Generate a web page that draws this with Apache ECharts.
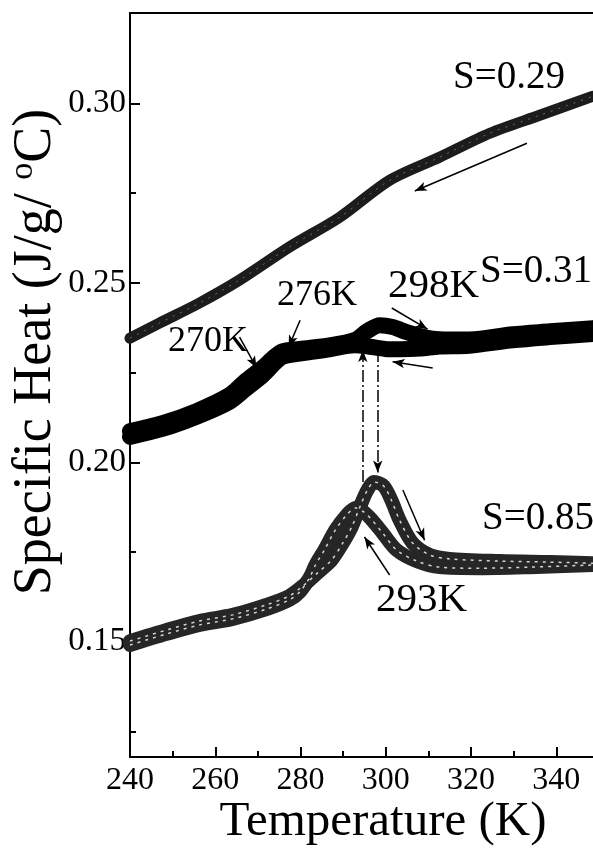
<!DOCTYPE html>
<html>
<head>
<meta charset="utf-8">
<script src="https://cdn.jsdelivr.net/npm/echarts@6/dist/echarts.min.js"></script>
<style>
  html, body { margin: 0; padding: 0; background: #fff; }
  #chart { width: 593px; height: 849px; }
</style>
</head>
<body>
<div id="chart"></div>
<script>
// tick values
var xMajor = [240, 260, 280, 300, 320, 340];
var xMinor = [250, 270, 290, 310, 330];
var yMajor = [0.15, 0.20, 0.25, 0.30];
var yMinor = [0.125, 0.175, 0.225, 0.275];

// S=0.29 (cooling only)
var tS029 = [240.0, 246.9, 256.3, 265.7, 277.4, 289.2, 300.9, 312.6, 324.4, 336.1, 348.6];
var cS029 = [0.2346, 0.2388, 0.2444, 0.2508, 0.2600, 0.2683, 0.2786, 0.2850, 0.2917, 0.2967, 0.3020];

// S=0.31 heating / cooling
var tS031h = [240.0, 247.6, 255.6, 263.4, 267.3, 271.1, 273.4, 275.6, 279.8, 286.8, 292.7, 295.7, 298.6, 301.6, 304.9, 308.7, 312.6, 319.6, 329.8, 338.5, 348.6];
var cS031h = [0.2087, 0.2109, 0.2143, 0.2188, 0.2229, 0.2264, 0.2289, 0.2309, 0.2316, 0.2326, 0.2341, 0.2366, 0.2382, 0.2377, 0.2363, 0.2350, 0.2343, 0.2342, 0.2357, 0.2365, 0.2374];
var tS031c = [240.0, 247.6, 255.6, 263.4, 267.3, 271.1, 275.6, 279.8, 286.8, 292.7, 296.2, 299.8, 303.3, 308.0, 312.6, 319.6, 329.8, 338.5, 348.6];
var cS031c = [0.2071, 0.2093, 0.2127, 0.2169, 0.2206, 0.2242, 0.2293, 0.2303, 0.2315, 0.2326, 0.2322, 0.2316, 0.2315, 0.2317, 0.2323, 0.2325, 0.2340, 0.2349, 0.2358];

// S=0.85 heating / cooling
var tS085h = [240.0, 248.6, 256.3, 264.1, 272.0, 277.4, 280.9, 284.0, 287.3, 289.9, 292.0, 294.1, 295.7, 297.3, 299.5, 301.3, 303.2, 306.3, 310.3, 315.0, 326.7, 338.4, 348.6];
var cS085h = [0.1502, 0.1533, 0.1558, 0.1575, 0.1603, 0.1628, 0.1659, 0.1692, 0.1728, 0.1775, 0.1820, 0.1881, 0.1923, 0.1945, 0.1934, 0.1895, 0.1840, 0.1775, 0.1742, 0.1731, 0.1725, 0.1722, 0.1719];
var tS085c = [240.0, 248.6, 256.3, 264.1, 272.0, 277.4, 279.8, 282.1, 283.5, 285.6, 288.2, 290.8, 292.9, 294.8, 296.7, 299.2, 302.5, 307.2, 312.6, 322.0, 333.8, 348.6];
var cS085c = [0.1491, 0.1522, 0.1547, 0.1564, 0.1591, 0.1617, 0.1639, 0.1678, 0.1714, 0.1756, 0.1812, 0.1853, 0.1873, 0.1862, 0.1840, 0.1804, 0.1756, 0.1725, 0.1708, 0.1705, 0.1708, 0.1714];

// arrows [x1, y1, x2, y2], head at the second point
var arrows = [
  [333.1, 0.2889, 306.8, 0.2756],
  [279.9, 0.2396, 277.2, 0.2321],
  [265.7, 0.2349, 269.7, 0.2263],
  [301.4, 0.2430, 309.8, 0.2371],
  [311.0, 0.2263, 301.6, 0.2280],
  [304.0, 0.1923, 309.1, 0.1783],
  [300.9, 0.1686, 295.0, 0.1792]
];
// dash-dot connectors
var dashArrows = [
  [294.6, 0.1945, 294.6, 0.2313],
  [298.1, 0.2313, 298.1, 0.1972]
];

var serif = "'Liberation Serif', 'Times New Roman', serif";

function pairs(t, c) {
  var out = [];
  for (var i = 0; i < t.length; i++) out.push([t[i], c[i]]);
  return out;
}

function band(name, t, c, width, color) {
  return { name: name, type: 'line', data: pairs(t, c), showSymbol: false, symbol: 'none',
    smooth: 0.3, lineStyle: { width: width, color: color, cap: 'round', join: 'round' }, z: 2 };
}
function specks(name, t, c, width, dash, op) {
  return { name: name + '_m', type: 'line', data: pairs(t, c), showSymbol: false, symbol: 'none',
    smooth: 0.3, lineStyle: { width: width, color: '#fff', type: dash, opacity: op }, z: 3 };
}

var markData = [];
for (var i = 0; i < arrows.length; i++) {
  var a = arrows[i];
  markData.push([{ coord: [a[0], a[1]], symbol: 'none' }, { coord: [a[2], a[3]], symbol: 'arrow', symbolSize: [7, 12] }]);
}
for (var j = 0; j < dashArrows.length; j++) {
  var d = dashArrows[j];
  markData.push([{ coord: [d[0], d[1]], symbol: 'none', lineStyle: { type: [12, 3, 2, 3] } },
    { coord: [d[2], d[3]], symbol: 'arrow', symbolSize: [7, 12] }]);
}

var chart = echarts.init(document.getElementById('chart'), null, { renderer: 'canvas' });

// arrows live on their own hidden series
var arrowSeries = {
  name: 'arrows', type: 'line', data: [], symbol: 'none', z: 5,
  markLine: {
    silent: true, animation: false, symbol: ['none', 'arrow'],
    label: { show: false },
    lineStyle: { color: '#000', width: 1.5, type: 'solid' },
    data: markData
  }
};

var option = {
  animation: false,
  backgroundColor: '#fff',
  grid: { left: 130, right: 0, top: 13, bottom: 92, containLabel: false },
  xAxis: [
    { type: 'value', min: 240, max: 348.6, position: 'bottom',
      axisLine: { show: true, lineStyle: { color: '#000', width: 2 } },
      axisTick: { show: true, inside: true, length: 10, lineStyle: { color: '#000', width: 2 }, customValues: xMajor },
      axisLabel: { color: '#000', fontFamily: serif, fontSize: 32, margin: 8, customValues: xMajor },
      splitLine: { show: false } },
    { type: 'value', min: 240, max: 348.6, position: 'bottom',
      axisLine: { show: false },
      axisTick: { show: true, inside: true, length: 6, lineStyle: { color: '#000', width: 2 }, customValues: xMinor },
      axisLabel: { show: false }, splitLine: { show: false } },
    { type: 'value', min: 240, max: 348.6, position: 'top',
      axisLine: { show: true, lineStyle: { color: '#000', width: 2 } },
      axisTick: { show: false }, axisLabel: { show: false }, splitLine: { show: false } }
  ],
  yAxis: [
    { type: 'value', min: 0.1179, max: 0.3252, position: 'left',
      axisLine: { show: true, lineStyle: { color: '#000', width: 2 } },
      axisTick: { show: true, inside: true, length: 10, lineStyle: { color: '#000', width: 2 }, customValues: yMajor },
      axisLabel: { color: '#000', fontFamily: serif, fontSize: 33, margin: 4, customValues: yMajor,
        formatter: function (v) { return v.toFixed(2); } },
      splitLine: { show: false } },
    { type: 'value', min: 0.1179, max: 0.3252, position: 'left',
      axisLine: { show: false },
      axisTick: { show: true, inside: true, length: 6, lineStyle: { color: '#000', width: 2 }, customValues: yMinor },
      axisLabel: { show: false }, splitLine: { show: false } }
  ],
  series: [
    band('S=0.85 heating', tS085h, cS085h, 14, '#262626'),
    band('S=0.85 cooling', tS085c, cS085c, 14, '#262626'),
    specks('S=0.85 heating', tS085h, cS085h, 1.5, [3, 5], 0.8),
    specks('S=0.85 cooling', tS085c, cS085c, 1.5, [3, 5], 0.8),
    band('S=0.31 heating', tS031h, cS031h, 16, '#000'),
    band('S=0.31 cooling', tS031c, cS031c, 16, '#000'),
    band('S=0.29', tS029, cS029, 11, '#1c1c1c'),
    specks('S=0.29', tS029, cS029, 1, [2, 6], 0.35),
    arrowSeries
  ],
  graphic: [
    { type: 'text', x: 453, y: 78, style: { text: 'S=0.29', font: '39px ' + serif, fill: '#000', verticalAlign: 'middle' } },
    { type: 'text', x: 480, y: 272, style: { text: 'S=0.31', font: '39px ' + serif, fill: '#000', verticalAlign: 'middle' } },
    { type: 'text', x: 388, y: 286, style: { text: '298K', font: '41px ' + serif, fill: '#000', verticalAlign: 'middle' } },
    { type: 'text', x: 277, y: 296, style: { text: '276K', font: '36px ' + serif, fill: '#000', verticalAlign: 'middle' } },
    { type: 'text', x: 168, y: 342, style: { text: '270K', font: '36px ' + serif, fill: '#000', verticalAlign: 'middle' } },
    { type: 'text', x: 482, y: 519, style: { text: 'S=0.85', font: '39px ' + serif, fill: '#000', verticalAlign: 'middle' } },
    { type: 'text', x: 376, y: 600, style: { text: '293K', font: '41px ' + serif, fill: '#000', verticalAlign: 'middle' } },
    { type: 'text', x: 383, y: 822, style: { text: 'Temperature (K)', font: '49px ' + serif, fill: '#000', align: 'center', verticalAlign: 'middle' } },
    { type: 'text', x: 36, y: 352, rotation: Math.PI / 2,
      style: { text: '{a|Specific Heat (J/g/ }{s|o}{a|C)}', align: 'center', verticalAlign: 'middle',
        rich: { a: { font: '54px ' + serif, fill: '#000', lineHeight: 60 },
                s: { font: '34px ' + serif, fill: '#000', verticalAlign: 'top', lineHeight: 60 } } } }
  ]
};
chart.setOption(option);
</script>
</body>
</html>
